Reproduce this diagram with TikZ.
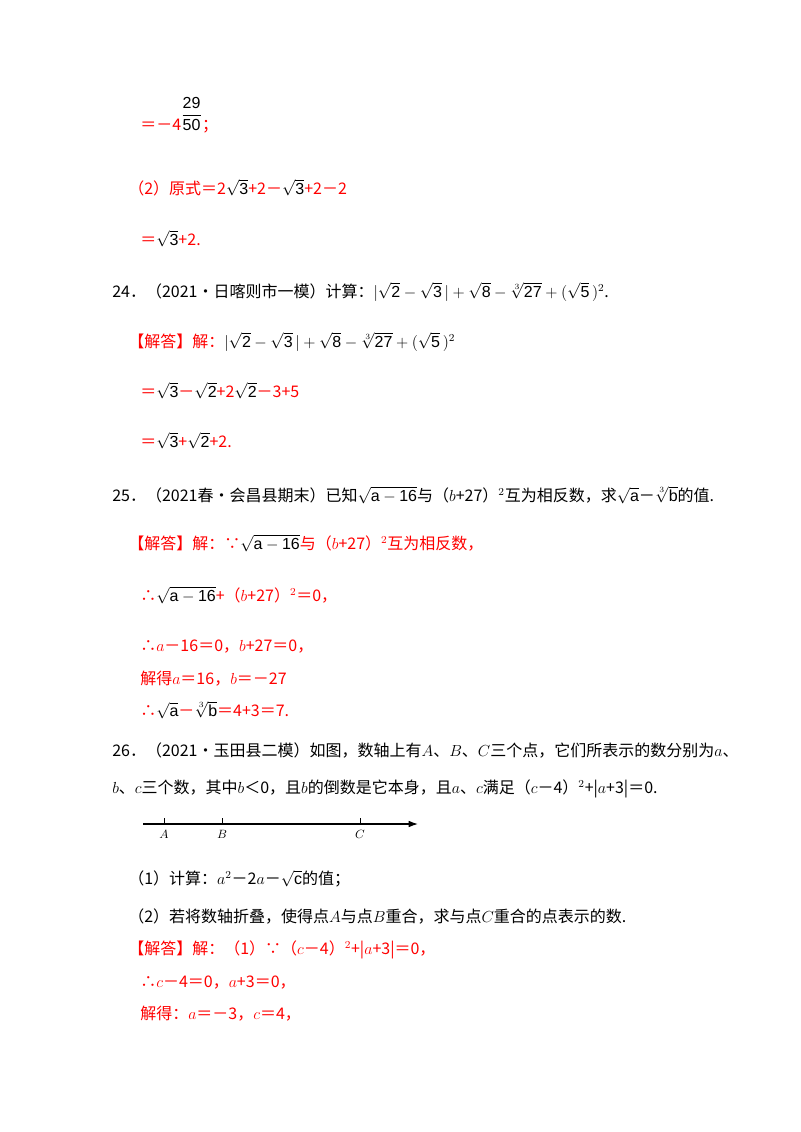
\documentclass[tikz,border=0pt]{standalone}
\usepackage{fontspec}
\setmainfont{Liberation Serif}
\setsansfont{Liberation Sans}
\newfontfamily\cjk{Noto Sans CJK SC}
\usetikzlibrary{arrows.meta}
\definecolor{rd}{RGB}{255,0,0}
\newcommand\rtt[1]{{\color{black}$\sqrt{\mathsf{#1}}$}}
\newcommand\cbt[1]{{\color{black}$\sqrt[3]{\mathsf{#1}}$}}
\newcommand\bk[1]{{\color{black}#1}}
\tikzset{ln/.style={anchor=base west,inner sep=0pt,font=\cjk\fontsize{12}{14}\selectfont},
 r/.style={ln,text=rd}, b/.style={ln,text=black}}
\begin{document}
\begin{tikzpicture}[x=0.75pt,y=-0.75pt]
\useasboundingbox (0,0) rectangle (800,1132);
\node[r] (l1) at (140,130) {＝－4\bk{\raisebox{1.2ex}{$\displaystyle\frac{\mathsf{29}}{\mathsf{50}}$}}；};
\node[r] (l2) at (128,194) {（2）原式＝2\rtt{3}+2－\rtt{3}+2－2};
\node[r] (l3) at (140,245) {＝\rtt{3}+2.};
\node[b] (q24) at (112,297) {24．（2021•日喀则市一模）计算：$|\sqrt{\mathsf 2}-\sqrt{\mathsf 3}\,|+\sqrt{\mathsf 8}-\sqrt[3]{\mathsf{27}}+(\sqrt{\mathsf 5}\,)^{2}$.};
\node[r] (a24) at (128,347) {【解答】解：\bk{$|\sqrt{\mathsf 2}-\sqrt{\mathsf 3}\,|+\sqrt{\mathsf 8}-\sqrt[3]{\mathsf{27}}+(\sqrt{\mathsf 5}\,)^{2}$}};
\node[r] (a24c) at (140,397) {＝\rtt{3}－\rtt{2}+2\rtt{2}－3+5};
\node[r] (a24d) at (140,447) {＝\rtt{3}+\rtt{2}+2.};
\node[b] (q25) at (112,501) {25．（2021春•会昌县期末）已知\rtt{a-16}与（$b$+27）$^2$互为相反数，求\rtt{a}－\cbt{b}的值.};
\node[r] (a25) at (128,549) {【解答】解：∵\rtt{a-16}与（$b$+27）$^2$互为相反数，};
\node[r] (a25b) at (140,601) {∴\rtt{a-16}+（$b$+27）$^2$＝0，};
\node[r] (a25c) at (140,651) {∴$a$－16＝0，$b$+27＝0，};
\node[r] (a25d) at (140,684) {解得$a$＝16，$b$＝－27};
\node[r] (a25e) at (140,716) {∴\rtt{a}－\cbt{b}＝4+3＝7.};
\node[b] (q26) at (112,756) {26．（2021•玉田县二模）如图，数轴上有$A$、$B$、$C$三个点，它们所表示的数分别为$a$、};
\node[b] (q26b) at (112,793) {$b$、$c$三个数，其中$b$＜0，且$b$的倒数是它本身，且$a$、$c$满足（$c$－4）$^2$+|$a$+3|＝0.};
\coordinate (s) at (143,824); \coordinate (e) at (418,824);
\draw[line width=0.9pt,-{Latex[length=7pt,width=5pt]}] (s) -- (e);
\foreach \n/\xx in {A/164,B/222,C/360}{
 \draw[line width=0.7pt] (\xx,824) -- (\xx,818);
 \node[inner sep=0pt,font=\small] (p\n) at (\xx,834) {$\n$};}
\node[b] (q26c) at (128,884) {（1）计算：$a^2$－2$a$－\rtt{c}的值；};
\node[b] (q26d) at (128,922) {（2）若将数轴折叠，使得点$A$与点$B$重合，求与点$C$重合的点表示的数.};
\node[r] (a26) at (128,954) {【解答】解：（1）∵（$c$－4）$^2$+|$a$+3|＝0，};
\node[r] (a26b) at (140,987) {∴$c$－4＝0，$a$+3＝0，};
\node[r] (a26c) at (140,1019) {解得：$a$＝－3，$c$＝4，};
\end{tikzpicture}
\end{document}
